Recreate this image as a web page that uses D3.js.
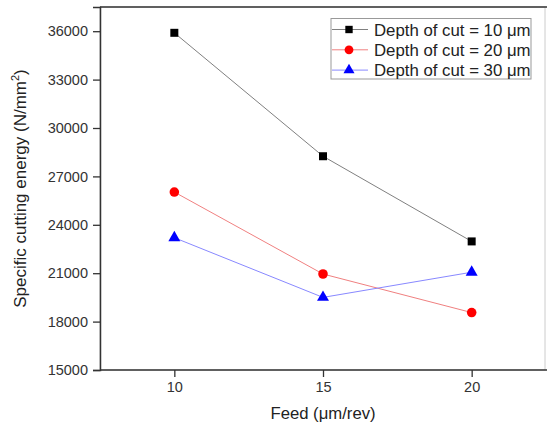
<!DOCTYPE html>
<html>
<head>
<meta charset="utf-8">
<script src="https://cdn.jsdelivr.net/npm/d3@7"></script>
<style>
    body { margin: 0; background: #fff; }
    svg { font-family: Arial, "Liberation Sans", sans-serif; }
</style>
</head>
<body>
<div id="container"></div>
<script>
// chart data
const feed = [10, 15, 20];
const depth10 = [35900, 28250, 22970];
const depth20 = [26030, 20950, 18560];
const depth30 = [23200, 19500, 21060];
const seriesNames = ["Depth of cut = 10 \u03bcm", "Depth of cut = 20 \u03bcm", "Depth of cut = 30 \u03bcm"];
const xTicks = [10, 15, 20];
const yTicks = [15000, 18000, 21000, 24000, 27000, 30000, 33000, 36000];

const WIDTH = 547;
const HEIGHT = 425;
const margin = { left: 100, top: 7, right: 1, bottom: 55 };

const svg = d3.select("#container")
    .append("svg")
    .attr("width", WIDTH)
    .attr("height", HEIGHT);

const xScale = d3.scaleLinear()
    .domain([7.5, 22.5])
    .range([margin.left, WIDTH - margin.right]);

const yScale = d3.scaleLinear()
    .domain([15000, 37500])
    .range([370, margin.top]);

// frame
svg.append("rect")
    .attr("x", xScale(7.5))
    .attr("y", yScale(37500))
    .attr("width", xScale(22.5) - xScale(7.5) - 1)
    .attr("height", yScale(15000) - yScale(37500))
    .attr("fill", "none")
    .attr("stroke", "#ccc")
    .attr("stroke-width", 1);

svg.append("line")
    .attr("x1", xScale(7.5)).attr("x2", WIDTH)
    .attr("y1", yScale(37500)).attr("y2", yScale(37500))
    .attr("stroke", "#333").attr("stroke-width", 1.5);

const bottomAxis = d3.axisBottom(xScale)
    .tickValues(xTicks)
    .tickSize(7)
    .tickPadding(5)
    .tickFormat(d3.format("d"));

const gx = svg.append("g")
    .attr("transform", "translate(0," + yScale(15000) + ")")
    .call(bottomAxis);

const leftAxis = d3.axisLeft(yScale)
    .tickValues(yTicks)
    .tickSize(7)
    .tickPadding(5)
    .tickFormat(d3.format("d"));

const gy = svg.append("g")
    .attr("transform", "translate(" + xScale(7.5) + ",0)")
    .call(leftAxis);

[gx, gy].forEach((g) => {
    g.select(".domain").attr("stroke", "#333").attr("stroke-width", 1.5);
    g.selectAll(".tick line").attr("stroke", "#333").attr("stroke-width", 1.3);
    g.selectAll(".tick text")
        .attr("fill", "#333")
        .style("font-size", "14.5px")
        .style("font-family", "Arial, 'Liberation Sans', sans-serif");
});
gx.select(".domain").attr("d", "M" + xScale(7.5) + ",0H" + WIDTH);

// axis titles
svg.append("text")
    .attr("x", xScale(15))
    .attr("y", 419)
    .attr("text-anchor", "middle")
    .attr("fill", "#222")
    .style("font-size", "16.7px")
    .text("Feed (\u03bcm/rev)");

const yTitle = svg.append("text")
    .attr("transform", "translate(26," + ((yScale(15000) + yScale(37500)) / 2) + ") rotate(-90)")
    .attr("text-anchor", "middle")
    .attr("fill", "#222")
    .style("font-size", "17px");
yTitle.append("tspan").text("Specific cutting energy (N/mm");
yTitle.append("tspan").attr("dy", -7).style("font-size", "11px").text("2");
yTitle.append("tspan").attr("dy", 7).text(")");

// series
const series = [
    { name: seriesNames[0], values: depth10, line: "#808080", fill: "#000", shape: d3.symbolSquare, size: 64 },
    { name: seriesNames[1], values: depth20, line: "#f08080", fill: "#ff0000", shape: d3.symbolCircle, size: 72 },
    { name: seriesNames[2], values: depth30, line: "#8888ff", fill: "#0000ff", shape: d3.symbolTriangle, size: 62 }
];

const line = d3.line()
    .x((d, i) => xScale(feed[i]))
    .y((d) => yScale(d));

series.forEach((s) => {
    svg.append("path")
        .attr("d", line(s.values))
        .attr("fill", "none")
        .attr("stroke", s.line)
        .attr("stroke-width", 1);

    svg.selectAll(null)
        .data(s.values)
        .enter()
        .append("path")
        .attr("d", d3.symbol().type(s.shape).size(s.size))
        .attr("transform", (d, i) => "translate(" + xScale(feed[i]) + "," + yScale(d) + ")")
        .attr("fill", s.fill);
});

// legend
const legend = svg.append("g").attr("transform", "translate(331,18.5)");
legend.append("rect")
    .attr("width", 200)
    .attr("height", 60.5)
    .attr("fill", "#fff")
    .attr("stroke", "#999")
    .attr("stroke-width", 1);

series.forEach((s, i) => {
    const row = legend.append("g").attr("transform", "translate(0," + (11 + i * 20.3) + ")");
    row.append("line")
        .attr("x1", 1).attr("x2", 37)
        .attr("stroke", s.line).attr("stroke-width", 1);
    row.append("path")
        .attr("d", d3.symbol().type(s.shape).size(s.size * 0.85))
        .attr("transform", "translate(18,0)")
        .attr("fill", s.fill);
    row.append("text")
        .attr("x", 43)
        .attr("y", 6)
        .attr("fill", "#222")
        .style("font-size", "16.8px")
        .text(s.name);
});
</script>
</body>
</html>
